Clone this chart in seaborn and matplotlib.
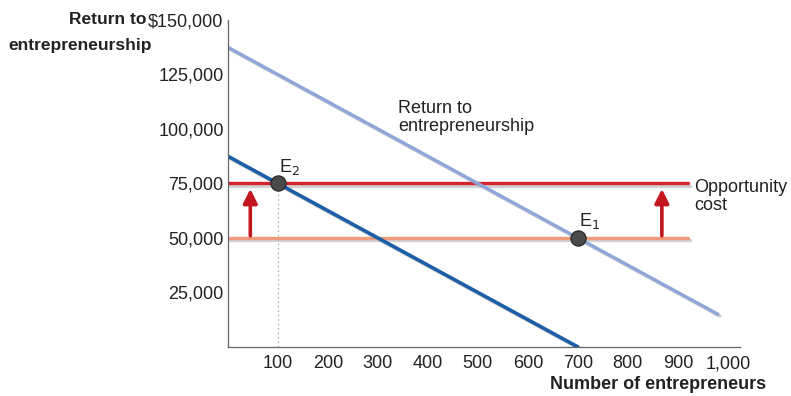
import matplotlib
matplotlib.use("Agg")
import matplotlib.pyplot as plt
import matplotlib.patheffects as pe
import seaborn as sns
import pandas as pd

# Return-to-entrepreneurship curves (number of entrepreneurs, return in $)
return_high_x = [0, 980]
return_high_y = [137500, 15000]
return_low_x = [0, 700]
return_low_y = [87500, 0]

# Opportunity cost, before and after the rise
cost_x = [0, 920]
cost_old = 50000
cost_new = 75000

# Equilibria
eq_names = ["E1", "E2"]
eq_x = [700, 100]
eq_y = [50000, 75000]

x_ticks = [100, 200, 300, 400, 500, 600, 700, 800, 900, 1000]
y_ticks = [0, 25000, 50000, 75000, 100000, 125000, 150000]
y_tick_labels = ["", "25,000", "50,000", "75,000", "100,000", "125,000", "$150,000"]
x_tick_labels = ["100", "200", "300", "400", "500", "600", "700", "800", "900", "1,000"]

sns.set_theme(style="white")
plt.rcParams["font.family"] = ["Liberation Sans", "DejaVu Sans"]

FS = 13

fig = plt.figure(figsize=(7.91, 3.96), dpi=100)
ax = fig.add_axes([0.288, 0.124, 0.648, 0.8255])

shadow = [pe.SimpleLineShadow(offset=(1.5, -1.5), shadow_color="#9a9a9a", alpha=0.45), pe.Normal()]

df_high = pd.DataFrame({"n": return_high_x, "r": return_high_y})
df_low = pd.DataFrame({"n": return_low_x, "r": return_low_y})
df_old = pd.DataFrame({"n": cost_x, "r": [cost_old] * len(cost_x)})
df_new = pd.DataFrame({"n": cost_x, "r": [cost_new] * len(cost_x)})

sns.lineplot(data=df_old, x="n", y="r", ax=ax, color="#f29a7c", lw=2.4, path_effects=shadow)
sns.lineplot(data=df_new, x="n", y="r", ax=ax, color="#d4232b", lw=2.4, path_effects=shadow)
sns.lineplot(data=df_high, x="n", y="r", ax=ax, color="#8ea6da", lw=2.4, path_effects=shadow)
sns.lineplot(data=df_low, x="n", y="r", ax=ax, color="#1d5fa6", lw=2.6, path_effects=shadow)

# dotted drop line from E2
ax.plot([eq_x[1], eq_x[1]], [0, eq_y[1]], color="#a8a8a8", lw=0.8, ls=(0, (1.5, 2.5)))

sns.scatterplot(x=eq_x, y=eq_y, ax=ax, s=120, color="#4a4a4a", edgecolor="#222222",
                linewidth=0.8, zorder=5)

ax.text(eq_x[0] + 2, eq_y[0] + 3000, "E$_1$", fontsize=FS, color="#222222", ha="left", va="bottom")
ax.text(eq_x[1] + 2, eq_y[1] + 3000, "E$_2$", fontsize=FS, color="#222222", ha="left", va="bottom")

# upward shift arrows
for ax_x in [45, 868]:
    ax.annotate("", xy=(ax_x, cost_new - 2500), xytext=(ax_x, cost_old + 1000),
                arrowprops=dict(arrowstyle="-|>,head_width=0.35,head_length=0.7",
                                color="#c3161f", lw=2.6, shrinkA=0, shrinkB=0))

ax.text(340, 113500, "Return to\nentrepreneurship", fontsize=FS, color="#222222",
        ha="left", va="top", linespacing=1.15)
ax.text(932, 69000, "Opportunity\ncost", fontsize=FS, color="#222222",
        ha="left", va="center", linespacing=1.15)

ax.set_xlim(0, 1025)
ax.set_ylim(0, 150000)
ax.set_xticks(x_ticks)
ax.set_xticklabels(x_tick_labels)
ax.set_yticks(y_ticks)
ax.set_yticklabels(y_tick_labels)
ax.tick_params(axis="both", direction="in", length=5, width=0.8, color="#666666",
               labelsize=FS, labelcolor="#222222", pad=3)
ax.tick_params(axis="x", pad=6)

for side in ["top", "right"]:
    ax.spines[side].set_visible(False)
for side in ["left", "bottom"]:
    ax.spines[side].set_color("#666666")
    ax.spines[side].set_linewidth(0.9)

ax.set_xlabel("")
ax.set_ylabel("")

fig.text(0.1855, 0.950, "Return to", fontsize=12.5, fontweight="bold", color="#222222",
         ha="right", va="center")
fig.text(0.0105, 0.886, "entrepreneurship", fontsize=12.5, fontweight="bold", color="#222222",
         ha="left", va="center")
fig.text(0.968, 0.028, "Number of entrepreneurs", fontsize=FS, fontweight="bold",
         color="#222222", ha="right", va="center")

fig.savefig("out.png", dpi=100)
